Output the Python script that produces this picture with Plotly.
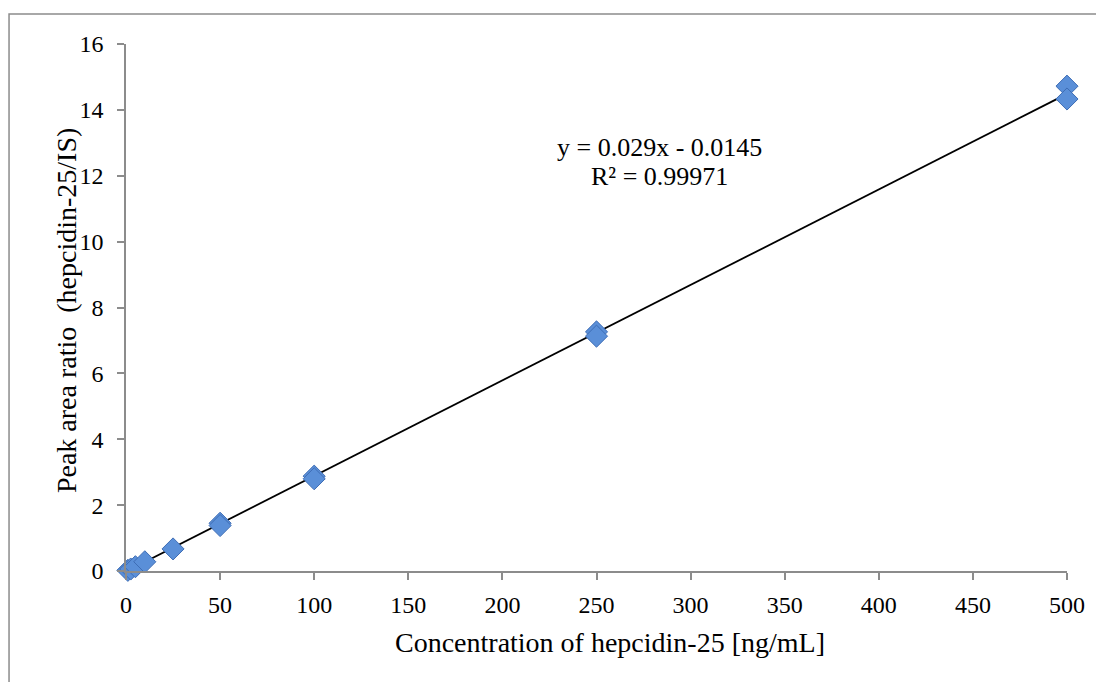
import plotly.graph_objects as go

# Data
conc = [1, 2.5, 5, 10, 25, 50, 50, 100, 100, 250, 250, 500, 500]
ratio = [0.02, 0.06, 0.13, 0.28, 0.67, 1.45, 1.38, 2.88, 2.80, 7.26, 7.13, 14.72, 14.33]
slope = 0.029
intercept = -0.0145
eq_line1 = "y = 0.029x - 0.0145"
eq_line2 = "R² = 0.99971"
x_title = "Concentration of hepcidin-25 [ng/mL]"
y_title = "Peak area ratio  (hepcidin-25/IS)"
x_ticks = [0, 50, 100, 150, 200, 250, 300, 350, 400, 450, 500]
y_ticks = [0, 2, 4, 6, 8, 10, 12, 14, 16]

fit_x = [min(conc), max(conc)]
fit_y = [slope * v + intercept for v in fit_x]

fig = go.Figure()
fig.add_trace(go.Scatter(x=fit_x, y=fit_y, mode="lines",
                         line=dict(color="black", width=1.8),
                         showlegend=False, hoverinfo="skip"))
fig.add_trace(go.Scatter(x=conc, y=ratio, mode="markers",
                         marker=dict(symbol="diamond", size=17, color="#5A8FD8",
                                     line=dict(color="#3E6DB5", width=1)),
                         showlegend=False, cliponaxis=False))

eq_font = dict(family="Liberation Serif", size=26, color="black")
fig.add_annotation(x=283.7, y=12.87, xref="x", yref="y", text=eq_line1,
                   showarrow=False, font=eq_font)
fig.add_annotation(x=283.7, y=11.99, xref="x", yref="y", text=eq_line2,
                   showarrow=False, font=eq_font)

title_font = dict(family="Liberation Serif", size=28, color="black")
fig.add_annotation(x=0.514, y=-0.135, xref="paper", yref="paper", text=x_title,
                   showarrow=False, font=title_font, xanchor="center", yanchor="middle")
fig.add_annotation(x=-0.0638, y=0.495, xref="paper", yref="paper", text=y_title,
                   showarrow=False, font=title_font, textangle=-90,
                   xanchor="center", yanchor="middle")

# outer chart border (extends beyond the right/bottom edges)
fig.add_shape(type="rect", xref="paper", yref="paper",
              x0=-0.1243, y0=-0.25, x1=1.06, y1=1.0569,
              line=dict(color="#8c8c8c", width=1.5), fillcolor="rgba(0,0,0,0)", layer="below")

axis_common = dict(showgrid=False, zeroline=False, showline=True, linecolor="#8c8c8c",
                   linewidth=1.5, ticks="outside", tickcolor="#8c8c8c", ticklen=7,
                   tickwidth=1.5,
                   tickfont=dict(family="Liberation Serif", size=24, color="black"))

fig.update_xaxes(range=[0, 500], tickvals=x_ticks, ticklabelstandoff=4, **axis_common)
fig.update_yaxes(range=[0, 16], tickvals=y_ticks, ticklabelstandoff=9, **axis_common)

fig.update_layout(width=1104, height=682, plot_bgcolor="white", paper_bgcolor="white",
                  margin=dict(l=118, r=45, t=36, b=119))

fig.write_html("out.html")
